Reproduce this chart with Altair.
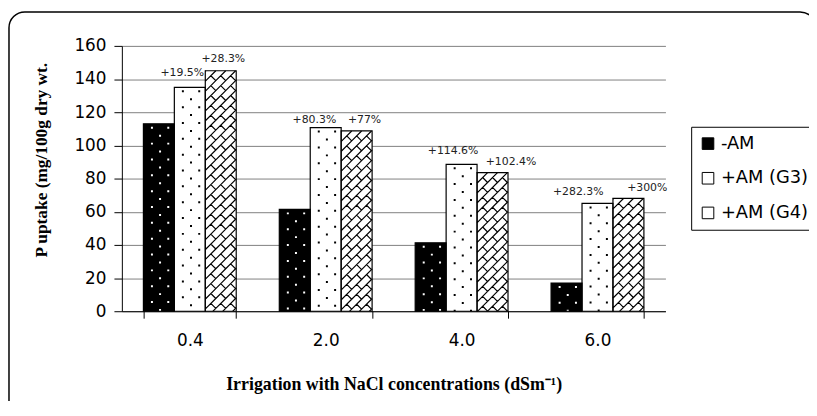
import altair as alt
import pandas as pd

# ---------------- data ----------------
categories = ["0.4", "2.0", "4.0", "6.0"]
series = ["-AM", "+AM (G3)", "+AM (G4)"]
am_minus = [113.0, 61.4, 41.3, 17.0]
am_g3 = [135.0, 110.7, 88.6, 65.0]
am_g4 = [145.0, 108.7, 83.6, 68.0]
pct_g3 = ["+19.5%", "+80.3%", "+114.6%", "+282.3%"]
pct_g4 = ["+28.3%", "+77%", "+102.4%", "+300%"]
y_ticks = [0, 20, 40, 60, 80, 100, 120, 140, 160]

# ---------------- layout / style ----------------
PLOT_W = 549
PLOT_H = 268
Y_MAX = 160
PPU = PLOT_H / Y_MAX
PAD_IN = 0.317
PAD_OUT = 0.1585
STEP = PLOT_W / (len(categories) - PAD_IN + 2 * PAD_OUT)
BAR_W = STEP * (1 - PAD_IN) / 3
HATCH_D = 10.0      # hatch period (px)
DOT_R = 8.0         # dot row spacing (px)

# label offsets (style), per category
g3_dx = [-7.6, -11.4, -8.6, -19.4]
g3_dy = [-14, -8, -13, -12]
g4_dx = [2.6, 8, 18.7, 19]
g4_dy = [-12, -11.5, -11, -10.5]

values = [am_minus, am_g3, am_g4]
rows = []
for j, s in enumerate(series):
    for i, c in enumerate(categories):
        rows.append({"cat": c, "series": s, "value": values[j][i]})
df = pd.DataFrame(rows)

# ---------- pattern tiles (custom symbol paths) ----------
S = BAR_W / 2.0  # custom symbol path unit -> px


def fmt(v):
    return f"{v / S:.4f}"


def hatch_path(W, D):
    hw, hh = W / 2, D / 2
    parts = []
    for k in range(-12, 13):
        c = k * D
        xa = max(-hw, c - hh)
        xb = min(hw, c + hh)
        if xb - xa > 0.05:
            parts.append(f"M{fmt(xa)},{fmt(c - xa)}L{fmt(xb)},{fmt(c - xb)}")
    for k in range(-12, 13):
        for m in range(-12, 13):
            if (k + m) % 2 != 0:
                continue
            c2 = m * D
            xs = (k * D + c2) / 2
            xe = ((k + 1) * D + c2) / 2
            xa = max(xs, -hw, c2 - hh)
            xb = min(xe, hw, c2 + hh)
            if xb - xa > 0.05:
                parts.append(f"M{fmt(xa)},{fmt(xa - c2)}L{fmt(xb)},{fmt(xb - c2)}")
    return "".join(parts)


def dot_path(R, h=1.0):
    pts = [(-7.0, -R / 2), (9.5, -R / 2), (1.2, R / 2)]
    parts = []
    for x, y in pts:
        parts.append(
            f"M{fmt(x - h)},{fmt(y - h)}L{fmt(x + h)},{fmt(y - h)}"
            f"L{fmt(x + h)},{fmt(y + h)}L{fmt(x - h)},{fmt(y + h)}Z"
        )
    return "".join(parts)


def tiles(j, tile_px):
    tu = tile_px / PPU
    out = []
    for i, c in enumerate(categories):
        v = values[j][i]
        k = 0
        while v - k * tu > 0:
            out.append({"cat": c, "series": series[j], "value": v - (k + 0.5) * tu})
            k += 1
    return pd.DataFrame(out)


# ---------------- encodings ----------------
FONT = "DejaVu Sans"
x_axis = alt.Axis(
    title="Irrigation with NaCl concentrations (dSm\u207b\u00b9)",
    titleFont="Liberation Serif",
    titleFontWeight="bold",
    titleFontSize=18,
    titleColor="black",
    titlePadding=27,
    labelAngle=0,
    labelFont=FONT,
    labelFontSize=17,
    labelColor="black",
    labelPadding=15,
    tickBand="extent",
    tickSize=7,
    tickColor="black",
    domainColor="black",
    grid=False,
)
x_enc = alt.X("cat:N", sort=categories,
              scale=alt.Scale(paddingInner=PAD_IN, paddingOuter=PAD_OUT), axis=x_axis)
xo_enc = alt.XOffset("series:N", sort=series, scale=alt.Scale(paddingInner=0, paddingOuter=0))
y_axis = alt.Axis(
    title="P uptake (mg/100g dry wt.",
    titleFont="Liberation Serif",
    titleFontWeight="bold",
    titleFontSize=17.5,
    titleColor="black",
    titleX=-81,
    titleY=115,
    titleBaseline="middle",
    values=y_ticks,
    labelOverlap=False,
    labelFont=FONT,
    labelFontSize=17,
    labelColor="black",
    labelPadding=8,
    tickSize=8,
    tickColor="black",
    domainColor="black",
    gridColor="#808080",
    gridWidth=1,
)
y_enc = alt.Y("value:Q", scale=alt.Scale(domain=[0, Y_MAX], nice=False), axis=y_axis)

frame = alt.Chart(pd.DataFrame({"a": [0]})).mark_rect(
    cornerRadius=16, fillOpacity=0, stroke="black", strokeWidth=1.5
).encode(x=alt.value(-114), x2=alt.value(701), y=alt.value(-34.3), y2=alt.value(375))

bars = alt.Chart(df).mark_bar(strokeWidth=0).encode(
    x=x_enc,
    xOffset=xo_enc,
    y=y_enc,
    fill=alt.Fill(
        "series:N",
        sort=series,
        scale=alt.Scale(domain=series, range=["black", "white", "white"]),
        legend=alt.Legend(
            title=None,
            orient="none",
            legendX=575,
            legendY=81.7,
            strokeColor="black",
            fillColor="white",
            padding=8,
            rowPadding=17,
            symbolType="square",
            symbolSize=137,
            symbolStrokeColor="black",
            symbolStrokeWidth=1,
            labelFont=FONT,
            labelFontSize=18,
            labelColor="black",
            labelOffset=4,
        ),
    ),
)

dots_black = alt.Chart(tiles(0, 2 * DOT_R)).mark_point(
    shape=dot_path(DOT_R), size=BAR_W ** 2, filled=True, fill="white",
    strokeWidth=0, opacity=1, clip=True,
).encode(x=x_enc, xOffset=xo_enc, y=y_enc)

dots_g3 = alt.Chart(tiles(1, 2 * DOT_R)).mark_point(
    shape=dot_path(DOT_R), size=BAR_W ** 2, filled=True, fill="black",
    strokeWidth=0, opacity=1, clip=True,
).encode(x=x_enc, xOffset=xo_enc, y=y_enc)

hatch = alt.Chart(tiles(2, HATCH_D)).mark_point(
    shape=hatch_path(BAR_W, HATCH_D), size=BAR_W ** 2, filled=False, stroke="black",
    strokeWidth=1.2, opacity=1, clip=True,
).encode(x=x_enc, xOffset=xo_enc, y=y_enc)

outline = alt.Chart(df).mark_bar(fillOpacity=0, stroke="black", strokeWidth=1.2).encode(
    x=x_enc, xOffset=xo_enc, y=y_enc,
)

texts = []
for j, labels, dxs, dys in [(1, pct_g3, g3_dx, g3_dy), (2, pct_g4, g4_dx, g4_dy)]:
    for i, c in enumerate(categories):
        d = pd.DataFrame([{"cat": c, "series": series[j], "value": values[j][i], "label": labels[i]}])
        texts.append(
            alt.Chart(d).mark_text(
                dx=dxs[i], dy=dys[i], baseline="middle", align="center",
                font=FONT, fontSize=11, color="#222222",
            ).encode(x=x_enc, xOffset=xo_enc, y=y_enc, text="label:N")
        )

chart = alt.layer(frame, bars, dots_black, dots_g3, hatch, outline, *texts).properties(
    width=PLOT_W,
    height=PLOT_H,
    autosize=alt.AutoSizeParams(type="none"),
    padding={"left": 115, "top": 36.3, "right": 145, "bottom": 89},
    background="white",
).configure_view(stroke="transparent")

chart.save("out.html", embed_options={"renderer": "svg", "actions": False})
